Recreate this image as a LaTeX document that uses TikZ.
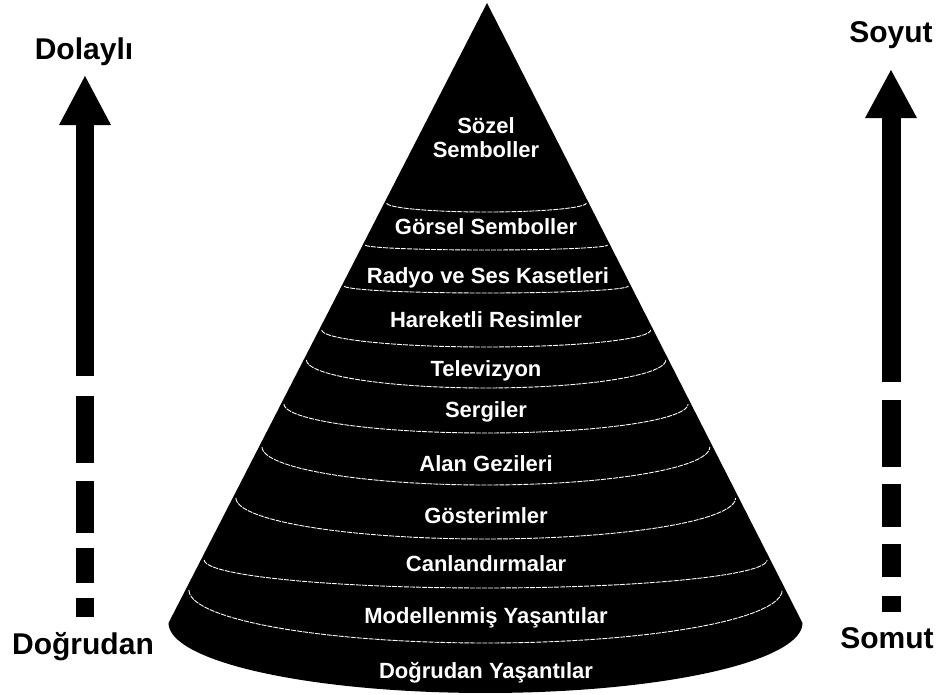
\documentclass[tikz,border=0pt]{standalone}
\usepackage{fontspec}
\setmainfont{Liberation Sans}
\begin{document}
\begin{tikzpicture}[x=1pt,y=-1pt,
  level/.style={text=white,font=\fontsize{22}{26}\selectfont\bfseries,anchor=base,inner sep=0pt},
  side/.style={text=black,font=\fontsize{30}{34}\selectfont\bfseries,anchor=base,inner sep=0pt},
  band/.style={white,line width=0.9pt,dash pattern=on 5pt off 1pt},
  bar/.style={fill=black}]
\useasboundingbox[fill=white] (0,0) rectangle (942,694);

% the cone
\coordinate (apex) at (487,3);
\fill[black] (apex) -- plot[domain=180:0,samples=80] ({485.5+317*cos(\x)},{623+70*sin(\x)}) -- cycle;

% band boundaries: end height / lowest point
\foreach \ye/\ym in {203/212,245/250,286/293,330/347,360/388,404/433,447/485,498/539,560/588,590/643}{
  \pgfmathsetmacro{\cx}{487-0.00245*(\ye-3)}
  \pgfmathsetmacro{\rx}{0.50885*(\ye-3)-2}
  \draw[band] plot[domain=180:0,samples=50] ({\cx+\rx*cos(\x)},{\ye+(\ym-\ye)*sin(\x)});
}

% levels
\node[level] (l1a) at (486,133) {Sözel};
\node[level] (l1b) at (486,157) {Semboller};
\node[level] (l2) at (486,234) {Görsel Semboller};
\node[level] (l3) at (488,283) {Radyo ve Ses Kasetleri};
\node[level] (l4) at (486,327) {Hareketli Resimler};
\node[level] (l5) at (486,376) {Televizyon};
\node[level] (l6) at (486,417) {Sergiler};
\node[level] (l7) at (486,471) {Alan Gezileri};
\node[level] (l8) at (486,523) {Gösterimler};
\node[level] (l9) at (486,571) {Canlandırmalar};
\node[level] (l10) at (486,623) {Modellenmiş Yaşantılar};
\node[level] (l11) at (486,678) {Doğrudan Yaşantılar};

% left arrow
\coordinate (ltip) at (85,76);
\fill[bar] (ltip) -- (111,125) -- (59,125) -- cycle;
\fill[bar] (76,124) rectangle (94,376);
\foreach \a/\b in {396/463,481/533,548/583,598/617}{\fill[bar] (76,\a) rectangle (94,\b);}

% right arrow
\coordinate (rtip) at (891,70);
\fill[bar] (rtip) -- (917,118) -- (865,118) -- cycle;
\fill[bar] (882,117) rectangle (901,382);
\foreach \a/\b in {400/467,484/527,544/577,596/612}{\fill[bar] (882,\a) rectangle (901,\b);}

% axis labels
\node[side] (dolayli) at (84,59) {Dolaylı};
\node[side] (dogrudan) at (83,654) {Doğrudan};
\node[side] (soyut) at (891,42) {Soyut};
\node[side] (somut) at (887,648) {Somut};
\end{tikzpicture}
\end{document}
